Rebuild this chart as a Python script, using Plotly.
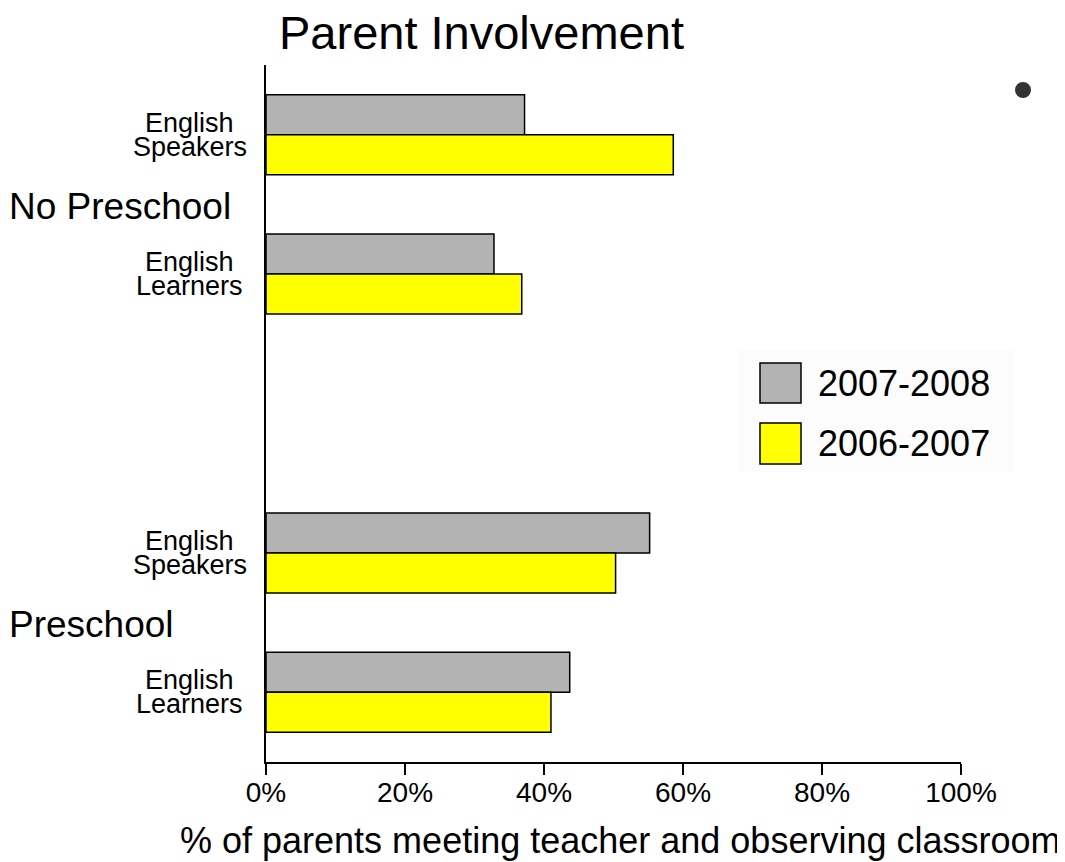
import plotly.graph_objects as go

# data
groups = ["No Preschool", "Preschool"]
subgroups = [["English", "Speakers"], ["English", "Learners"]]
series_names = ["2007-2008", "2006-2007"]
series_colors = ["#b3b3b3", "#ffff00"]
vals_0708 = [37.2, 32.8, 55.2, 43.7]   # NP-ES, NP-EL, P-ES, P-EL
vals_0607 = [58.6, 36.8, 50.3, 41.0]
x_ticks = [0, 20, 40, 60, 80, 100]
x_ticktext = [f"{v}%" for v in x_ticks]

FONT = "Liberation Sans, Arial, sans-serif"

# slot index for each bar group, leaving an empty slot between the two groups
pos = []
for gi in range(len(groups)):
    for si in range(len(subgroups)):
        pos.append(gi * (len(subgroups) + 1) + si)

fig = go.Figure()
for name, vals, col in zip(series_names, [vals_0708, vals_0607], series_colors):
    fig.add_trace(go.Bar(
        x=vals, y=pos, orientation='h', name=name,
        marker=dict(color=col, line=dict(color='black', width=1.5)),
        showlegend=False,
    ))

annotations = []
# category labels (two lines, centred)
for i, p in enumerate(pos):
    top, bottom = subgroups[i % len(subgroups)]
    for txt, shift in [(top, 12), (bottom, -12)]:
        annotations.append(dict(
            x=-0.1094, xref='paper', y=p, yref='y', yshift=shift,
            text=txt, showarrow=False, xanchor='center', yanchor='middle',
            font=dict(size=27, color='black', family=FONT)))
# group labels
for gi, g in enumerate(groups):
    mid = (pos[gi * 2] + pos[gi * 2 + 1]) / 2
    annotations.append(dict(
        x=-0.372, xref='paper', y=mid, yref='y', text=g, showarrow=False,
        xanchor='left', yanchor='middle', yshift=-2,
        font=dict(size=37, color='black', family=FONT)))
# x axis title
annotations.append(dict(
    x=0.509, xref='paper', y=-0.1133, yref='paper',
    text="% of parents meeting teacher and observing classroom",
    showarrow=False, xanchor='center', yanchor='middle',
    font=dict(size=36, color='black', family=FONT)))
# title
annotations.append(dict(
    x=0.310, xref='paper', y=1.0, yref='paper', yshift=4,
    text="Parent Involvement", showarrow=False, xanchor='center', yanchor='bottom',
    font=dict(size=47, color='black', family=FONT)))

# custom legend with big swatches
shapes = [
    dict(type='rect', xref='paper', yref='paper', x0=0.679, x1=1.0748, y0=0.416, y1=0.591,
         fillcolor='#fcfcfc', line=dict(width=0), layer='below'),
    dict(type='circle', xref='paper', yref='paper', x0=1.0777, x1=1.1007, y0=0.9526, y1=0.9756,
         fillcolor='#333333', line=dict(width=0)),
]
leg_y = [(0.515, 0.5725), (0.4275, 0.4864)]
for (y0, y1), name, col in zip(leg_y, series_names, series_colors):
    shapes.append(dict(type='rect', xref='paper', yref='paper', x0=0.7108, x1=0.7698,
                       y0=y0, y1=y1, fillcolor=col, line=dict(color='black', width=1.5)))
    annotations.append(dict(
        x=0.792, xref='paper', y=(y0 + y1) / 2, yref='paper', text=name,
        showarrow=False, xanchor='left', yanchor='middle',
        font=dict(size=36, color='black', family=FONT)))

# the page body adds an 8px margin, so the figure is 8px smaller than the window
fig.update_layout(
    width=1057, height=854,
    margin=dict(l=258, r=104, t=57, b=100),
    paper_bgcolor='white', plot_bgcolor='white',
    barmode='group', bargap=0.426, bargroupgap=0,
    font=dict(family=FONT, color='black', size=28),
    xaxis=dict(range=[0, 100], tickmode='array', tickvals=x_ticks, ticktext=x_ticktext,
               ticks='outside', ticklen=11, tickwidth=1.5, tickcolor='black',
               showline=True, linecolor='black', linewidth=1.5,
               showgrid=False, zeroline=False, automargin=False,
               ticklabelstandoff=-6,
               tickfont=dict(size=28, color='black', family=FONT)),
    yaxis=dict(range=[4.5, -0.5], showline=True, linecolor='black', linewidth=1.5,
               showticklabels=False, ticks='', showgrid=False, zeroline=False),
    annotations=annotations,
    shapes=shapes,
)

fig.write_html("out.html")
